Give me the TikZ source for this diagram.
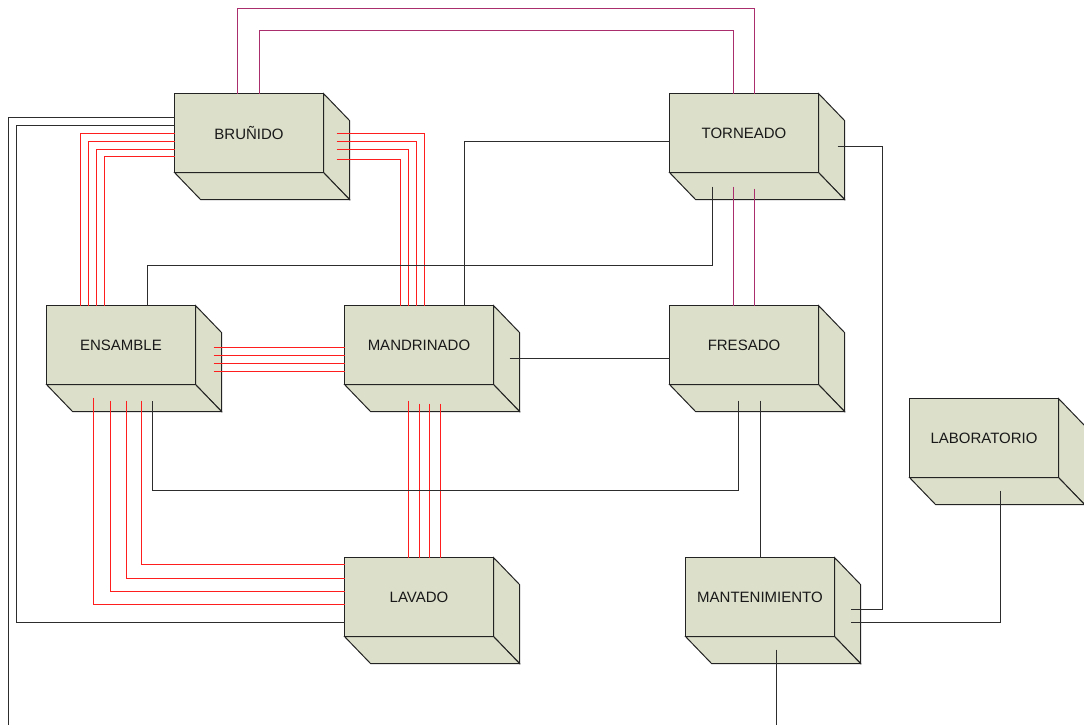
\documentclass[tikz,border=0pt]{standalone}
\usepackage{fontspec}
\setmainfont{Liberation Sans}
\usetikzlibrary{calc}
\definecolor{boxfill}{RGB}{220,224,202}
\definecolor{boxedge}{RGB}{35,35,35}
\definecolor{lnred}{RGB}{255,30,30}
\definecolor{lnpurp}{RGB}{170,45,110}
\definecolor{lnblack}{RGB}{45,45,45}
\tikzset{
  front/.style={draw=boxedge, fill=boxfill, line width=1pt, minimum width=149pt,
    minimum height=79pt, inner sep=0pt, outer sep=0pt,
    font=\fontsize{15}{18}\selectfont, text=black!90},
  sideface/.style={draw=boxedge, fill=boxfill, line width=1pt, line join=miter},
  rl/.style={draw=lnred, line width=1pt},
  pl/.style={draw=lnpurp, line width=1pt},
  bl/.style={draw=lnblack, line width=1pt},
}
\newcommand{\cubebox}[4]{%
  \node[front] (#1) at (#2,#3) {#4};
  \path[sideface] (#1.north east) -- ++(26,27) -- ++(0,79) -- (#1.south east) -- cycle;
  \path[sideface] (#1.south west) -- (#1.south east) -- ++(26,27) -- ++(-149,0) -- cycle;
}
\begin{document}
\begin{tikzpicture}[x=1pt,y=-1pt]
\useasboundingbox (0,0) rectangle (1084,725);
\clip (0,0) rectangle (1084,725);
% boxes
\cubebox{brunido}{249}{133}{BRUÑIDO}
\cubebox{torneado}{744}{133}{TORNEADO}
\cubebox{ensamble}{121}{345}{ENSAMBLE}
\cubebox{mandrinado}{419}{345}{MANDRINADO}
\cubebox{fresado}{744}{345}{FRESADO}
\cubebox{laboratorio}{984}{438}{LABORATORIO}
\cubebox{lavado}{419}{597}{LAVADO}
\cubebox{mantenimiento}{760}{597}{MANTENIMIENTO}
% free ends
\coordinate (leftend) at (8.5,725);
\coordinate (mantend) at (776.5,725);
% purple connectors Bruñido - Torneado
\draw[pl] ($(brunido.north west)+(63,0)$) -- ++(0,-85) -| ($(torneado.north west)+(85,0)$);
\draw[pl] ($(brunido.north west)+(85,0)$) -- ++(0,-63) -| ($(torneado.north west)+(64,0)$);
% purple Torneado - Fresado
\draw[pl] ($(torneado.south west)+(64,14)$) -- ($(fresado.north west)+(64,0)$);
\draw[pl] ($(torneado.south west)+(85,16)$) -- ($(fresado.north west)+(85,0)$);
% red Bruñido - Ensamble
\draw[rl] ($(brunido.north west)+(0,40)$) -| ($(ensamble.north west)+(34,0)$);
\draw[rl] ($(brunido.north west)+(0,48)$) -| ($(ensamble.north west)+(42,0)$);
\draw[rl] ($(brunido.north west)+(0,56)$) -| ($(ensamble.north west)+(50,0)$);
\draw[rl] ($(brunido.north west)+(0,63)$) -| ($(ensamble.north west)+(58,0)$);
% red Bruñido - Mandrinado
\draw[rl] ($(brunido.north east)+(13,40)$) -| ($(mandrinado.north west)+(80,0)$);
\draw[rl] ($(brunido.north east)+(13,48)$) -| ($(mandrinado.north west)+(72,0)$);
\draw[rl] ($(brunido.north east)+(13,56)$) -| ($(mandrinado.north west)+(64,0)$);
\draw[rl] ($(brunido.north east)+(13,66)$) -| ($(mandrinado.north west)+(56,0)$);
% red Ensamble - Mandrinado
\coordinate (em1) at ($(ensamble.north east)+(18,42)$);
\coordinate (em2) at ($(ensamble.north east)+(18,50)$);
\coordinate (em3) at ($(ensamble.north east)+(18,58)$);
\coordinate (em4) at ($(ensamble.north east)+(18,66)$);
\draw[rl] (em1) -- (em1 -| mandrinado.west);
\draw[rl] (em2) -- (em2 -| mandrinado.west);
\draw[rl] (em3) -- (em3 -| mandrinado.west);
\draw[rl] (em4) -- (em4 -| mandrinado.west);
% red Ensamble - Lavado
\draw[rl] ($(ensamble.south west)+(47,13)$) |- ($(lavado.north west)+(0,47)$);
\draw[rl] ($(ensamble.south west)+(64,16)$) |- ($(lavado.north west)+(0,34)$);
\draw[rl] ($(ensamble.south west)+(80,16)$) |- ($(lavado.north west)+(0,21)$);
\draw[rl] ($(ensamble.south west)+(95,16)$) |- ($(lavado.north west)+(0,7)$);
% red Mandrinado - Lavado
\draw[rl] ($(mandrinado.south west)+(64,16)$) -- ($(lavado.north west)+(64,0)$);
\draw[rl] ($(mandrinado.south west)+(75,19)$) -- ($(lavado.north west)+(75,0)$);
\draw[rl] ($(mandrinado.south west)+(85,19)$) -- ($(lavado.north west)+(85,0)$);
\draw[rl] ($(mandrinado.south west)+(96,19)$) -- ($(lavado.north west)+(96,0)$);
% black connectors
\draw[bl] ($(torneado.south west)+(43,14)$) -- ++(0,79) -| ($(ensamble.north west)+(101,0)$);
\draw[bl] ($(torneado.north west)+(0,48)$) -| ($(mandrinado.north west)+(120,0)$);
\draw[bl] ($(torneado.north east)+(19,53)$) -- ++(45,0) |- ($(mantenimiento.north east)+(16,52)$);
\draw[bl] ($(laboratorio.south west)+(91,13)$) |- ($(mantenimiento.north east)+(16,65)$);
\draw[bl] ($(mantenimiento.south west)+(91,13)$) -- (mantend);
\draw[bl] ($(fresado.south west)+(69,16)$) -- ++(0,90) -| ($(ensamble.south west)+(106,16)$);
\draw[bl] ($(fresado.south west)+(91,16)$) -- ($(mantenimiento.north west)+(75,0)$);
\coordinate (mf) at ($(mandrinado.north east)+(16,53)$);
\draw[bl] (mf) -- (mf -| fresado.west);
\draw[bl] ($(brunido.north west)+(0,24)$) -| (leftend);
\draw[bl] ($(brunido.north west)+(0,32)$) -- ++(-158,0) |- ($(lavado.north west)+(0,65)$);
\end{tikzpicture}
\end{document}
